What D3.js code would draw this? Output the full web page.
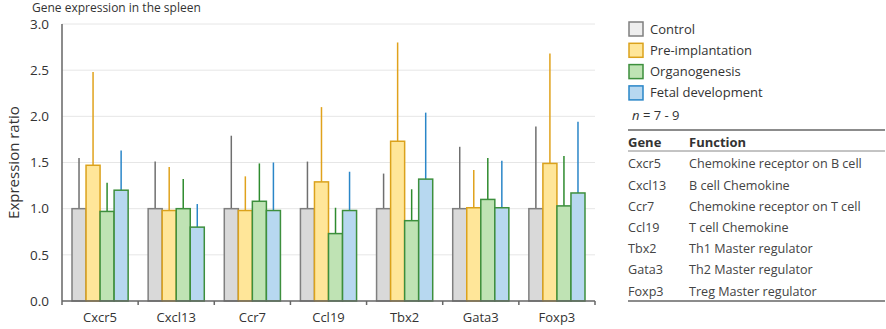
<!DOCTYPE html>
<html>
<head>
<meta charset="utf-8">
<script src="https://cdnjs.cloudflare.com/ajax/libs/d3/7.8.5/d3.min.js"></script>
<style>
  body { margin: 0; background: #fff; }
  svg { font-family: "Open Sans", sans-serif; }
</style>
</head>
<body>
<svg id="chart" width="886" height="329"></svg>
<script>
var genes = ["Cxcr5", "Cxcl13", "Ccr7", "Ccl19", "Tbx2", "Gata3", "Foxp3"];
var series = ["Control", "Pre-implantation", "Organogenesis", "Fetal development"];

// bar heights (mean ratio) per series
var control   = [1.00, 1.00, 1.00, 1.00, 1.00, 1.00, 1.00];
var preImpl   = [1.47, 0.98, 0.98, 1.29, 1.73, 1.01, 1.49];
var organo    = [0.97, 1.00, 1.08, 0.73, 0.87, 1.10, 1.03];
var fetal     = [1.20, 0.80, 0.98, 0.98, 1.32, 1.01, 1.17];

// top of the error whiskers
var controlErr = [1.55, 1.51, 1.79, 1.51, 1.38, 1.67, 1.89];
var preImplErr = [2.48, 1.45, 1.35, 2.10, 2.80, 1.42, 2.68];
var organoErr  = [1.28, 1.32, 1.49, 1.01, 1.21, 1.55, 1.57];
var fetalErr   = [1.63, 1.05, 1.50, 1.40, 2.04, 1.52, 1.94];

var yTicks = [0, 0.5, 1.0, 1.5, 2.0, 2.5, 3.0];

var functions = ["Chemokine receptor on B cell", "B cell Chemokine", "Chemokine receptor on T cell",
                 "T cell Chemokine", "Th1 Master regulator", "Th2 Master regulator", "Treg Master regulator"];

var means = [control, preImpl, organo, fetal];
var errs = [controlErr, preImplErr, organoErr, fetalErr];

var fills = ["#d9d9d9", "#ffe699", "#bfe3b4", "#b7d8f0"];
var strokes = ["#7f7f7f", "#dba21c", "#3d8f3d", "#3d8f3d"];
var errColors = ["#6f6f6f", "#e0a21c", "#2e8b2e", "#2a86c8"];
var legendFills = ["#eeeeee", "#ffe699", "#bfe3b4", "#b7d8f0"];
var legendStrokes = ["#7f7f7f", "#dba21c", "#3d8f3d", "#2a86c8"];

var svg = d3.select("#chart");

var x = d3.scaleBand().domain(genes).range([62, 595]);
var xs = d3.scaleBand().domain(d3.range(4)).range([10, x.bandwidth() - 10]);
var y = d3.scaleLinear().domain([0, 3]).range([301, 24]);

// title
svg.append("text").attr("x", 32).attr("y", 12)
    .style("font-size", "12px").attr("fill", "#333")
    .text("Gene expression in the spleen");

// gridlines
svg.append("g").selectAll("line")
    .data(yTicks.filter(function(d) { return d > 0; }))
    .enter().append("line")
    .attr("x1", 62).attr("x2", 595)
    .attr("y1", function(d) { return y(d); })
    .attr("y2", function(d) { return y(d); })
    .attr("stroke", "#e6e6e6").attr("stroke-width", 1);

// y tick labels
svg.append("g").selectAll("text")
    .data(yTicks).enter().append("text")
    .attr("x", 49).attr("y", function(d) { return y(d); })
    .attr("dy", "0.35em").attr("text-anchor", "end")
    .style("font-size", "13.5px").attr("fill", "#333")
    .text(function(d) { return d3.format(".1f")(d); });

// y label
svg.append("text")
    .attr("transform", "translate(14," + y(1.5) + ") rotate(-90)")
    .attr("text-anchor", "middle").attr("dy", "0.35em")
    .style("font-size", "15px").attr("fill", "#333")
    .text("Expression ratio");

// bars and whiskers
var groups = svg.append("g").selectAll("g")
    .data(genes).enter().append("g")
    .attr("transform", function(d) { return "translate(" + x(d) + ",0)"; });

groups.each(function(g, gi) {
    var grp = d3.select(this);
    for (var s = 0; s < 4; s++) {
        var cx = xs(s) + xs.bandwidth() / 2;
        grp.append("line")
            .attr("x1", cx).attr("x2", cx)
            .attr("y1", y(means[s][gi])).attr("y2", y(errs[s][gi]))
            .attr("stroke", errColors[s]).attr("stroke-width", 1.5);
    }
    for (var s = 0; s < 4; s++) {
        grp.append("rect")
            .attr("x", xs(s)).attr("width", xs.bandwidth())
            .attr("y", y(means[s][gi])).attr("height", y(0) - y(means[s][gi]))
            .attr("fill", fills[s]).attr("stroke", strokes[s]).attr("stroke-width", 1.5);
    }
});

// axes
var axisG = svg.append("g").attr("stroke", "#666").attr("stroke-width", 1.5);
axisG.append("line").attr("x1", 62).attr("x2", 62).attr("y1", y(3)).attr("y2", y(0));
axisG.append("line").attr("x1", 62).attr("x2", 595).attr("y1", y(0)).attr("y2", y(0));
axisG.selectAll(".tick").data(genes.concat(["end"])).enter().append("line")
    .attr("x1", function(d, i) { return 62 + i * x.bandwidth(); })
    .attr("x2", function(d, i) { return 62 + i * x.bandwidth(); })
    .attr("y1", y(0)).attr("y2", y(0) + 4);

svg.append("g").selectAll("text")
    .data(genes).enter().append("text")
    .attr("x", function(d) { return x(d) + x.bandwidth() / 2; })
    .attr("y", 322).attr("text-anchor", "middle")
    .style("font-size", "13px").attr("fill", "#333")
    .text(function(d) { return d; });

// legend
var legend = svg.append("g").selectAll("g")
    .data(series).enter().append("g")
    .attr("transform", function(d, i) { return "translate(629," + (22 + i * 21.3) + ")"; });
legend.append("rect").attr("width", 14).attr("height", 14)
    .attr("fill", function(d, i) { return legendFills[i]; })
    .attr("stroke", function(d, i) { return legendStrokes[i]; })
    .attr("stroke-width", 1.5);
legend.append("text").attr("x", 21).attr("y", 7).attr("dy", "0.35em")
    .style("font-size", "13px").attr("fill", "#333")
    .text(function(d) { return d; });

var nText = svg.append("text").attr("x", 632).attr("y", 120)
    .style("font-size", "13px").attr("fill", "#333");
nText.append("tspan").style("font-style", "italic").text("n");
nText.append("tspan").text(" = 7 - 9");

// gene table
var tbl = svg.append("g");
tbl.append("line").attr("x1", 628).attr("x2", 885).attr("y1", 130).attr("y2", 130)
    .attr("stroke", "#666").attr("stroke-width", 1.5);
tbl.append("line").attr("x1", 628).attr("x2", 885).attr("y1", 151).attr("y2", 151)
    .attr("stroke", "#888").attr("stroke-width", 1);
tbl.append("line").attr("x1", 628).attr("x2", 885).attr("y1", 301).attr("y2", 301)
    .attr("stroke", "#666").attr("stroke-width", 1.5);
tbl.append("text").attr("x", 628).attr("y", 142).attr("dy", "0.35em")
    .style("font-size", "13px").style("font-weight", "bold").attr("fill", "#333").text("Gene");
tbl.append("text").attr("x", 689).attr("y", 142).attr("dy", "0.35em")
    .style("font-size", "13px").style("font-weight", "bold").attr("fill", "#333").text("Function");

var rows = tbl.selectAll(".row").data(genes).enter().append("g")
    .attr("transform", function(d, i) { return "translate(0," + (164 + i * 21.2) + ")"; });
rows.append("text").attr("x", 628).attr("dy", "0.35em")
    .style("font-size", "12.6px").attr("fill", "#444").text(function(d) { return d; });
rows.append("text").attr("x", 689).attr("dy", "0.35em")
    .style("font-size", "12.6px").attr("fill", "#444").text(function(d, i) { return functions[i]; });
</script>
</body>
</html>
